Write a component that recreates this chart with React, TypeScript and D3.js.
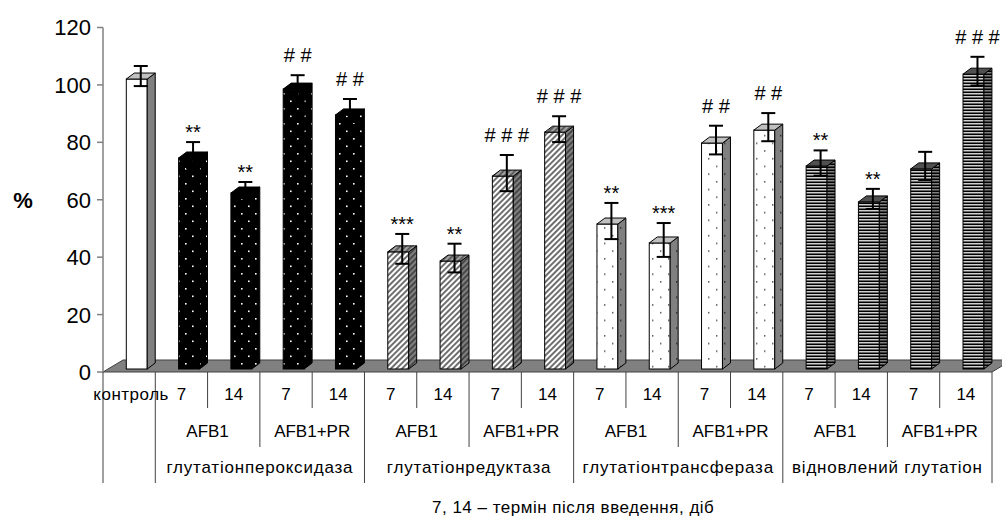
import React from "react";
import * as d3 from "d3";

// categories
const controlLabel = "контроль";
const groups = ["глутатіонпероксидаза", "глутатіонредуктаза", "глутатіонтрансфераза", "відновлений глутатіон"];
const treatments = ["AFB1", "AFB1+PR"];
const days = ["7", "14"];
const caption = "7, 14 –  термін після введення, діб";

// values, % of control
const values = [101, 73.5, 61.3, 97.5, 88.5, 40.8, 37.6, 67.2, 82.5, 50.5, 43.9, 78.7, 83.2, 70.7, 58.2, 69.7, 102.7];
const errors = [3.5, 4.5, 2.8, 3.8, 4.5, 5.2, 5.0, 6.3, 4.5, 6.3, 5.9, 5.0, 4.9, 4.4, 3.5, 4.9, 5.0];
const marks = ["", "**", "**", "# #", "# #", "***", "**", "# # #", "# # #", "**", "***", "# #", "# #", "**", "**", "", "# # #"];
const yTicks = [0, 20, 40, 60, 80, 100, 120];

const font = "'Liberation Sans', Arial, sans-serif";

type Faces = { front: string; top: string; side: string };

const faceStyles: Faces[] = [
  { front: "#ffffff", top: "#c0c0c0", side: "#808080" },
  { front: "url(#dotsW)", top: "#000000", side: "url(#dotsW)" },
  { front: "url(#hatchW)", top: "url(#hatchL)", side: "url(#hatchG)" },
  { front: "url(#dotsK)", top: "#c0c0c0", side: "url(#dotsKG)" },
  { front: "url(#stripes)", top: "#505050", side: "url(#stripesD)" },
];

const kindOf = (i: number) => (i === 0 ? 0 : 1 + Math.floor((i - 1) / 4));

export default function App() {
  const y = d3.scaleLinear().domain([0, 120]).range([372, 27.5]);
  const x = d3.scaleBand<number>().domain(d3.range(values.length)).range([103, 992]);
  const cw = x.bandwidth();
  const bw = cw * 0.4;
  const ox = 5, oy = -3, dx = 8, dy = -6;
  const floorDx = 20, floorDy = -12;
  const y0 = y(0);
  const xEnd = x.range()[1];

  const row1 = 408, row2 = 447, row3 = 483;
  const boundaries = d3.range(values.length + 1).map((k) => {
    let bottom = row1;
    if (k === 0 || (k - 1) % 4 === 0) bottom = row3;
    else if ((k - 1) % 4 === 2) bottom = row2;
    return { k, bottom };
  });

  return (
    <svg width={1002} height={516} style={{ position: "absolute", left: 0, top: 0, background: "#fff" }} fontFamily={font}>
      <defs>
        <pattern id="dotsW" patternUnits="userSpaceOnUse" width={14} height={15}>
          <rect width={14} height={15} fill="#000" />
          <rect x={3} y={3} width={1.6} height={1.6} fill="#fff" />
          <rect x={10} y={10.5} width={1.6} height={1.6} fill="#fff" />
        </pattern>
        <pattern id="dotsK" patternUnits="userSpaceOnUse" width={16} height={15.4}>
          <rect width={16} height={15.4} fill="#fff" />
          <rect x={4} y={4} width={1.4} height={1.4} fill="#404040" />
          <rect x={12} y={11.7} width={1.4} height={1.4} fill="#404040" />
        </pattern>
        <pattern id="dotsKG" patternUnits="userSpaceOnUse" width={16} height={15.4}>
          <rect width={16} height={15.4} fill="#808080" />
          <rect x={4} y={4} width={1.4} height={1.4} fill="#202020" />
          <rect x={12} y={11.7} width={1.4} height={1.4} fill="#202020" />
        </pattern>
        <pattern id="hatchW" patternUnits="userSpaceOnUse" width={4} height={4} patternTransform="rotate(45)">
          <rect width={4} height={4} fill="#fff" />
          <line x1={1} y1={0} x2={1} y2={4} stroke="#303030" strokeWidth={1.4} />
        </pattern>
        <pattern id="hatchL" patternUnits="userSpaceOnUse" width={4} height={4} patternTransform="rotate(45)">
          <rect width={4} height={4} fill="#a0a0a0" />
          <line x1={1} y1={0} x2={1} y2={4} stroke="#303030" strokeWidth={1.2} />
        </pattern>
        <pattern id="hatchG" patternUnits="userSpaceOnUse" width={4} height={4} patternTransform="rotate(45)">
          <rect width={4} height={4} fill="#808080" />
          <line x1={1} y1={0} x2={1} y2={4} stroke="#202020" strokeWidth={1.2} />
        </pattern>
        <pattern id="stripes" patternUnits="userSpaceOnUse" width={4} height={3}>
          <rect width={4} height={3} fill="#d0d0d0" />
          <rect y={1.5} width={4} height={1.5} fill="#000" />
        </pattern>
        <pattern id="stripesD" patternUnits="userSpaceOnUse" width={4} height={3}>
          <rect width={4} height={3} fill="#808080" />
          <rect y={1.5} width={4} height={1.5} fill="#000" />
        </pattern>
      </defs>

      {/* floor */}
      <polygon
        points={`103,${y0} ${xEnd},${y0} ${xEnd + floorDx},${y0 + floorDy} ${103 + floorDx},${y0 + floorDy}`}
        fill="#808080"
        stroke="#404040"
        strokeWidth={1}
      />

      {/* value axis */}
      <line x1={103} x2={103} y1={y(120)} y2={y0} stroke="#808080" strokeWidth={1.5} />
      {yTicks.map((t) => (
        <g key={t}>
          <line x1={97} x2={103} y1={y(t)} y2={y(t)} stroke="#808080" strokeWidth={1.5} />
          <text x={91} y={y(t)} dy="0.36em" textAnchor="end" fontSize={22}>
            {t}
          </text>
        </g>
      ))}
      <text x={23} y={208} textAnchor="middle" fontSize={22} fontWeight="bold">
        %
      </text>

      {/* bars */}
      {values.map((v, i) => {
        const f = faceStyles[kindOf(i)];
        const fx = (x(i) as number) + cw * 0.35 + ox;
        const top = y(v) + oy;
        const bottom = y0 + oy;
        const ex = fx + bw / 2 + dx / 2;
        const ey = (u: number) => y(u) + oy + dy / 2;
        const whiskTop = ey(v + errors[i]);
        const isStar = marks[i].startsWith("*");
        return (
          <g key={i} stroke="#000" strokeWidth={1}>
            <rect x={fx} y={top} width={bw} height={bottom - top} fill={f.front} />
            <polygon
              points={`${fx + bw},${top} ${fx + bw + dx},${top + dy} ${fx + bw + dx},${bottom + dy} ${fx + bw},${bottom}`}
              fill={f.side}
            />
            <polygon
              points={`${fx},${top} ${fx + dx},${top + dy} ${fx + bw + dx},${top + dy} ${fx + bw},${top}`}
              fill={f.top}
            />
            <g strokeWidth={2}>
              <line x1={ex} x2={ex} y1={whiskTop} y2={ey(v - errors[i])} />
              <line x1={ex - 7} x2={ex + 7} y1={whiskTop} y2={whiskTop} />
              <line x1={ex - 7} x2={ex + 7} y1={ey(v - errors[i])} y2={ey(v - errors[i])} />
            </g>
            {marks[i] && (
              <text
                x={ex}
                y={whiskTop - (isStar ? 3 : 13)}
                textAnchor="middle"
                fontSize={20}
                stroke="none"
                fill="#000"
              >
                {marks[i]}
              </text>
            )}
          </g>
        );
      })}

      {/* category table */}
      {boundaries.map(({ k, bottom }) => {
        const bx = k === values.length ? xEnd : (x(k) as number);
        return <line key={k} x1={bx} x2={bx} y1={y0} y2={bottom} stroke="#404040" strokeWidth={1} />;
      })}
      <g fontSize={17}>
        <text x={(x(0) as number) + cw / 2 + 2} y={400} textAnchor="middle" letterSpacing={0.5}>
          {controlLabel}
        </text>
        {d3.range(1, values.length).map((i) => (
          <text key={i} x={(x(i) as number) + cw / 2} y={400} textAnchor="middle">
            {days[(i - 1) % 2]}
          </text>
        ))}
        {groups.map((g, gi) =>
          treatments.map((t, ti) => (
            <text key={g + t} x={(x(1 + gi * 4 + ti * 2) as number) + cw} y={437} textAnchor="middle">
              {t}
            </text>
          ))
        )}
        {groups.map((g, gi) => (
          <text key={g} x={(x(1 + gi * 4) as number) + cw * 2} y={473} textAnchor="middle" letterSpacing={0.8}>
            {g}
          </text>
        ))}
        <text x={432} y={513} letterSpacing={0.5}>
          {caption}
        </text>
      </g>
    </svg>
  );
}
